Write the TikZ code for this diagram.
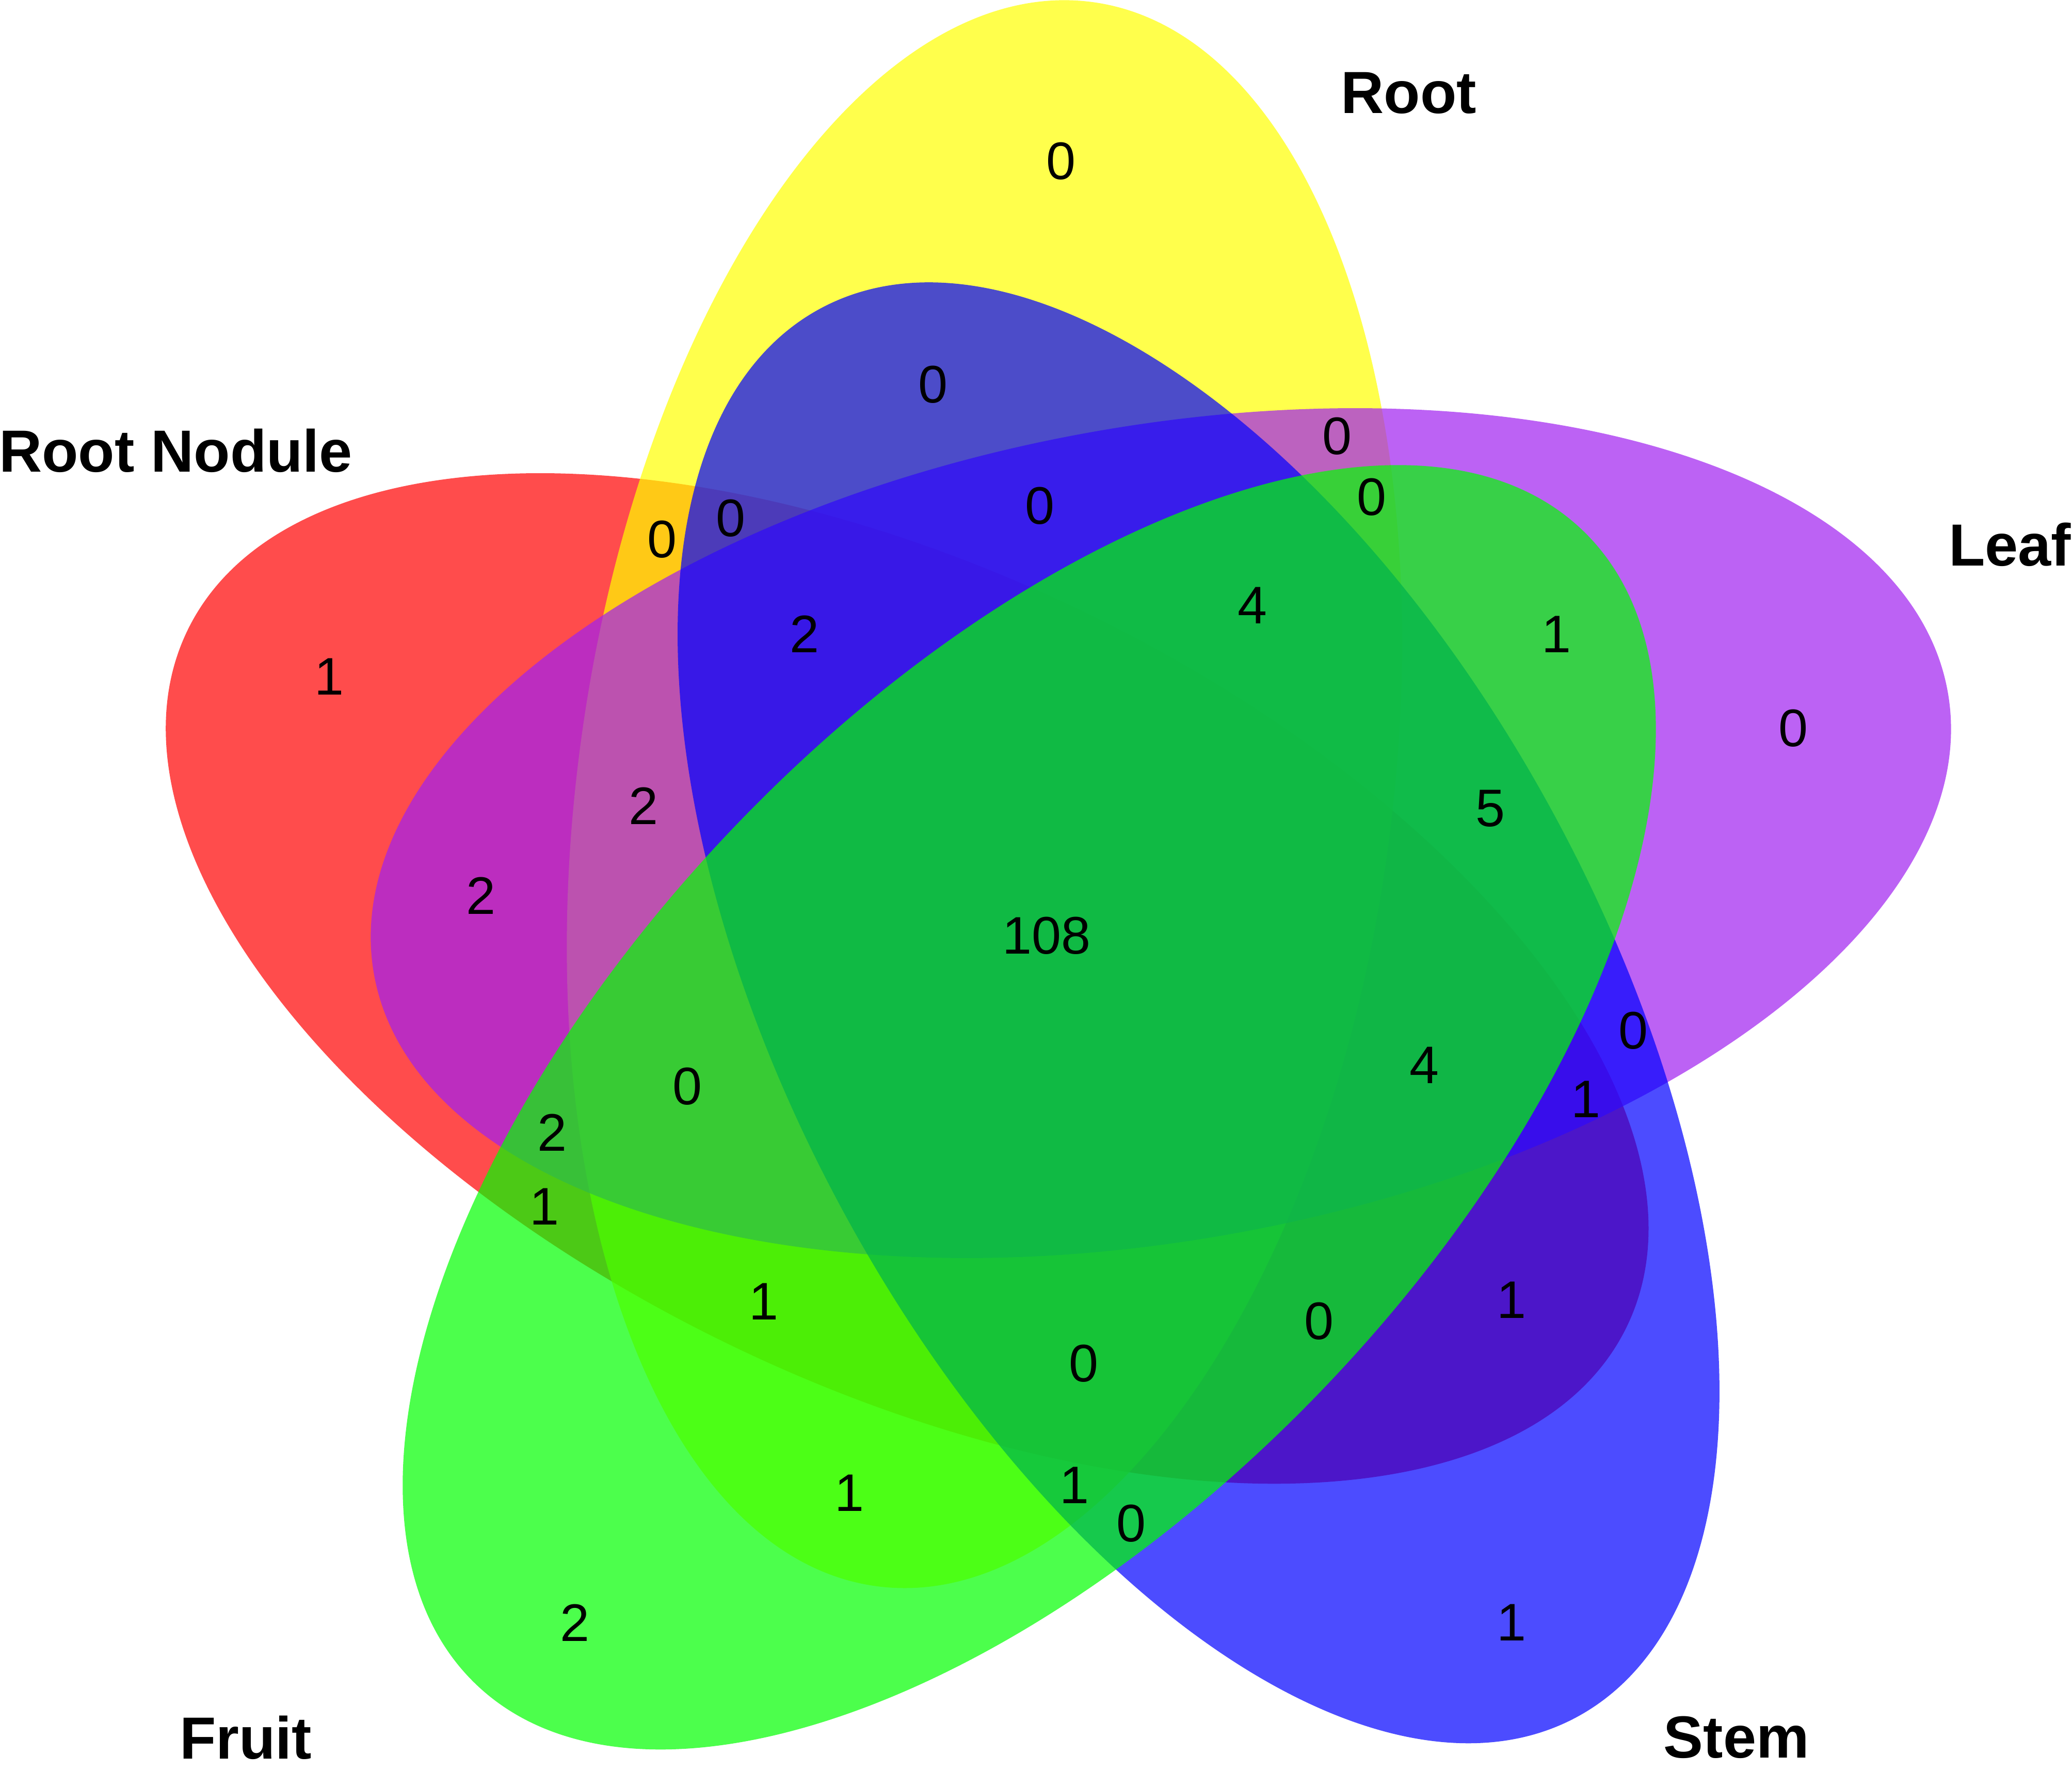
\documentclass[tikz,border=0pt]{standalone}
\usepackage{fontspec}
\setmainfont{Liberation Sans}
\definecolor{vred}{RGB}{255,0,0}
\definecolor{vyellow}{RGB}{255,255,0}
\definecolor{vpurple}{RGB}{160,32,240}
\definecolor{vblue}{RGB}{0,0,255}
\definecolor{vgreen}{RGB}{0,255,0}
\begin{document}
\begin{tikzpicture}[x=0.5pt,y=-0.5pt,
  setfill/.style={fill opacity=0.7},
  num/.style={inner sep=0pt, font=\fontsize{20}{24}\selectfont},
  setlabel/.style={inner sep=0pt, font=\fontsize{22.5}{27}\selectfont\bfseries}]
\useasboundingbox (0,0) rectangle (1568,1340);
\fill[white] (0,0) rectangle (1568,1340);
% ellipses (Root Nodule, Root, Leaf, Stem, Fruit)
\fill[vred, setfill, rotate around={154.2:(686.5,740.5)}] (686.5,740.5) ellipse [x radius=605, y radius=308];
\fill[vyellow, setfill, rotate around={82.2:(745,601)}] (745,601) ellipse [x radius=605, y radius=308];
\fill[vpurple, setfill, rotate around={10.2:(878.5,630.5)}] (878.5,630.5) ellipse [x radius=605, y radius=308];
\fill[vblue, setfill, rotate around={118.2:(907,766.5)}] (907,766.5) ellipse [x radius=605, y radius=308];
\fill[vgreen, setfill, rotate around={46.2:(778.9,838)}] (778.9,838) ellipse [x radius=605, y radius=308];
% set labels
\node[setlabel] (lroot) at (1066,70.5) {Root};
\node[setlabel] (lnodule) at (133,341) {Root Nodule};
\node[setlabel] (lleaf) at (1521,412) {Leaf};
\node[setlabel] (lstem) at (1314,1315) {Stem};
\node[setlabel] (lfruit) at (186,1315) {Fruit};
% counts
\node[num] (n1) at (803,122) {0};
\node[num] (n2) at (706,291) {0};
\node[num] (n3) at (1012,330) {0};
\node[num] (n4) at (1038,376) {0};
\node[num] (n5) at (787,383) {0};
\node[num] (n6) at (501,408) {0};
\node[num] (n7) at (553,392) {0};
\node[num] (n8) at (948,458) {4};
\node[num] (n9) at (1178,480) {1};
\node[num] (n10) at (609,480) {2};
\node[num] (n11) at (249,512) {1};
\node[num] (n12) at (1357,551) {0};
\node[num] (n13) at (487,610) {2};
\node[num] (n14) at (1128,612) {5};
\node[num] (n15) at (364,678) {2};
\node[num] (n16) at (792,708) {108};
\node[num] (n17) at (1236,780) {0};
\node[num] (n18) at (1078,806) {4};
\node[num] (n19) at (1200,832) {1};
\node[num] (n20) at (520,822) {0};
\node[num] (n21) at (418,857) {2};
\node[num] (n22) at (412,913) {1};
\node[num] (n23) at (578,985) {1};
\node[num] (n24) at (1144,984) {1};
\node[num] (n25) at (998,1000) {0};
\node[num] (n26) at (820,1032) {0};
\node[num] (n27) at (643,1130) {1};
\node[num] (n28) at (813,1124) {1};
\node[num] (n29) at (856,1153) {0};
\node[num] (n30) at (435,1228) {2};
\node[num] (n31) at (1144,1228) {1};
\end{tikzpicture}
\end{document}
